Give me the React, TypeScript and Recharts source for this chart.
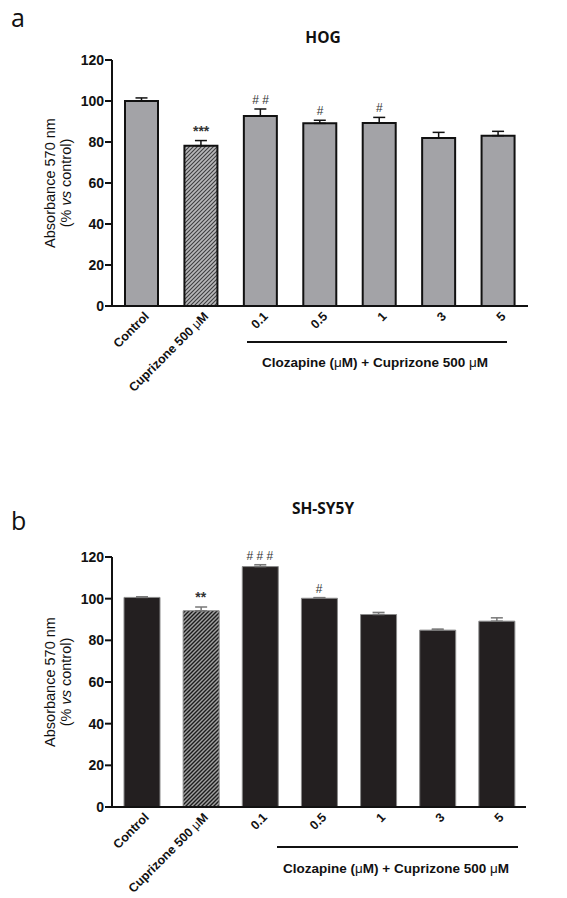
import React from "react";
import {
  ComposedChart,
  Bar,
  Line,
  XAxis,
  YAxis,
  ErrorBar,
  Cell,
  LabelList,
} from "recharts";

// treatment groups shared by both panels
const groups = ["Control", "Cuprizone 500 μM", "0.1", "0.5", "1", "3", "5"];

// panel a: HOG
const hogValues = [100, 78.2, 92.7, 89.1, 89.3, 82, 83.1];
const hogErrors = [1.5, 2.5, 3.4, 1.5, 2.7, 2.7, 2.1];
const hogMarks = ["", "***", "# #", "#", "#", "", ""];

// panel b: SH-SY5Y
const shValues = [100.6, 94.2, 115.4, 100.2, 92.4, 84.9, 89.2];
const shErrors = [0.3, 1.8, 0.9, 0.3, 1.0, 0.5, 1.6];
const shMarks = ["", "**", "# # #", "#", "", "", ""];

const yTicks = [0, 20, 40, 60, 80, 100, 120];

const FONT = "'Liberation Sans', Arial, sans-serif";

function buildRows(values: number[], errors: number[], marks: string[]) {
  return groups.map((g, i) => ({
    group: g,
    value: values[i],
    err: [0, errors[i]],
    top: values[i] + errors[i],
    mark: marks[i],
  }));
}

const hogRows = buildRows(hogValues, hogErrors, hogMarks);
const shRows = buildRows(shValues, shErrors, shMarks);

function withMu(label: string) {
  const i = label.indexOf("μ");
  if (i < 0) return label;
  return (
    <>
      {label.slice(0, i)}
      <tspan fontWeight="normal">μ</tspan>
      {label.slice(i + 1)}
    </>
  );
}

function SlantTick(props: any) {
  const { x, y, payload } = props;
  return (
    <g transform={`translate(${x + 5},${y + 8}) rotate(-45)`}>
      <text
        x={0}
        y={0}
        dy="0.35em"
        textAnchor="end"
        fontSize={12.5}
        fontWeight="bold"
        fontFamily={FONT}
        fill="#111"
      >
        {withMu(String(payload.value))}
      </text>
    </g>
  );
}

function MarkLabel(props: any) {
  const { x, y, value } = props;
  if (!value) return null;
  const star = String(value).includes("*");
  return (
    <text
      x={x}
      y={y - 5}
      textAnchor="middle"
      fontSize={star ? 14 : 12}
      fontWeight={star ? "bold" : "normal"}
      fontFamily={FONT}
      fill="#333"
    >
      {value}
    </text>
  );
}

type PanelProps = {
  rows: any[];
  top: number;
  height: number;
  margin: { top: number; right: number; bottom: number; left: number };
  barSize: number;
  fill: string;
  stroke: string;
  strokeWidth: number;
  hatch: string;
  errColor: string;
};

function Panel({
  rows,
  top,
  height,
  margin,
  barSize,
  fill,
  stroke,
  strokeWidth,
  hatch,
  errColor,
}: PanelProps) {
  return (
    <div style={{ position: "absolute", left: 0, top }}>
      <ComposedChart width={567} height={height} data={rows} margin={margin}>
        <XAxis
          dataKey="group"
          interval={0}
          tickLine={false}
          tickSize={0}
          tickMargin={0}
          height={60}
          axisLine={{ stroke: "#111", strokeWidth: 2 }}
          tick={<SlantTick />}
        />
        <YAxis
          width={40}
          domain={[0, 120]}
          ticks={yTicks}
          tickSize={7}
          tickMargin={1}
          axisLine={{ stroke: "#111", strokeWidth: 2 }}
          tickLine={{ stroke: "#111", strokeWidth: 2 }}
          tick={{
            fontSize: 14,
            fontWeight: "bold",
            fill: "#111",
            fontFamily: FONT,
          }}
        />
        <Bar
          dataKey="value"
          barSize={barSize}
          stroke={stroke}
          strokeWidth={strokeWidth}
          isAnimationActive={false}
        >
          {rows.map((r, i) => (
            <Cell key={i} fill={i === 1 ? `url(#${hatch})` : fill} />
          ))}
          <ErrorBar
            dataKey="err"
            width={6}
            stroke={errColor}
            strokeWidth={1.5}
          />
        </Bar>
        <Line
          dataKey="top"
          stroke="none"
          dot={false}
          activeDot={false}
          isAnimationActive={false}
        >
          <LabelList dataKey="mark" content={<MarkLabel />} />
        </Line>
      </ComposedChart>
    </div>
  );
}

function YLabel({ cy }: { cy: number }) {
  return (
    <>
      <text
        transform={`translate(50,${cy}) rotate(-90)`}
        textAnchor="middle"
        dominantBaseline="central"
        fontSize={14.5}
        fontFamily={FONT}
        fill="#111"
      >
        Absorbance 570 nm
      </text>
      <text
        transform={`translate(66,${cy}) rotate(-90)`}
        textAnchor="middle"
        dominantBaseline="central"
        fontSize={14.5}
        fontFamily={FONT}
        fill="#111"
      >
        (% <tspan fontStyle="italic">vs</tspan> control)
      </text>
    </>
  );
}

function Bracket({ x1, x2, y, tx, ty }: any) {
  return (
    <>
      <line x1={x1} x2={x2} y1={y} y2={y} stroke="#111" strokeWidth={2} />
      <text
        x={tx}
        y={ty}
        textAnchor="middle"
        dominantBaseline="central"
        fontSize={13.5}
        fontWeight="bold"
        fontFamily={FONT}
        fill="#111"
      >
        Clozapine (<tspan fontWeight="normal">μ</tspan>M) + Cuprizone 500{" "}
        <tspan fontWeight="normal">μ</tspan>M
      </text>
    </>
  );
}

export default function App() {
  return (
    <div
      style={{
        position: "absolute",
        left: 0,
        top: 0,
        width: 567,
        height: 898,
        background: "#fff",
        overflow: "hidden",
      }}
    >
      <Panel
        rows={hogRows}
        top={0}
        height={480}
        margin={{ top: 60, right: 39, bottom: 114, left: 72 }}
        barSize={33}
        fill="#a3a3a7"
        stroke="#111"
        strokeWidth={2}
        hatch="hatchA"
        errColor="#111"
      />
      <Panel
        rows={shRows}
        top={480}
        height={418}
        margin={{ top: 77, right: 41, bottom: 31, left: 72 }}
        barSize={36}
        fill="#231f20"
        stroke="#8a8a8a"
        strokeWidth={1}
        hatch="hatchB"
        errColor="#777"
      />
      <svg
        width={567}
        height={898}
        style={{ position: "absolute", left: 0, top: 0, pointerEvents: "none" }}
      >
        <defs>
          <pattern id="hatchA" patternUnits="userSpaceOnUse" width={4} height={4}>
            <rect width={4} height={4} fill="#b8b8ba" />
            <path
              d="M-1,1 l2,-2 M0,4 l4,-4 M3,5 l2,-2"
              stroke="#3e3e40"
              strokeWidth={1.1}
            />
          </pattern>
          <pattern id="hatchB" patternUnits="userSpaceOnUse" width={4} height={4}>
            <rect width={4} height={4} fill="#a0a0a0" />
            <path
              d="M-1,1 l2,-2 M0,4 l4,-4 M3,5 l2,-2"
              stroke="#1c1c1c"
              strokeWidth={1.4}
            />
          </pattern>
        </defs>
        <text x={11} y={27} fontSize={25} fontFamily="'Open Sans', sans-serif" fill="#111">
          a
        </text>
        <text x={11} y={530} fontSize={25} fontFamily="'Open Sans', sans-serif" fill="#111">
          b
        </text>
        <text
          x={323}
          y={43}
          textAnchor="middle"
          fontSize={15.5}
          fontWeight="bold"
          fontFamily="'Open Sans', sans-serif"
          fill="#111"
        >
          HOG
        </text>
        <text
          x={323}
          y={514}
          textAnchor="middle"
          fontSize={15.5}
          fontWeight="bold"
          fontFamily="'Open Sans', sans-serif"
          fill="#111"
        >
          SH-SY5Y
        </text>
        <YLabel cy={183} />
        <YLabel cy={682} />
        <Bracket x1={247} x2={507} y={342} tx={375} ty={362} />
        <Bracket x1={277} x2={518} y={847} tx={396} ty={868} />
      </svg>
    </div>
  );
}
